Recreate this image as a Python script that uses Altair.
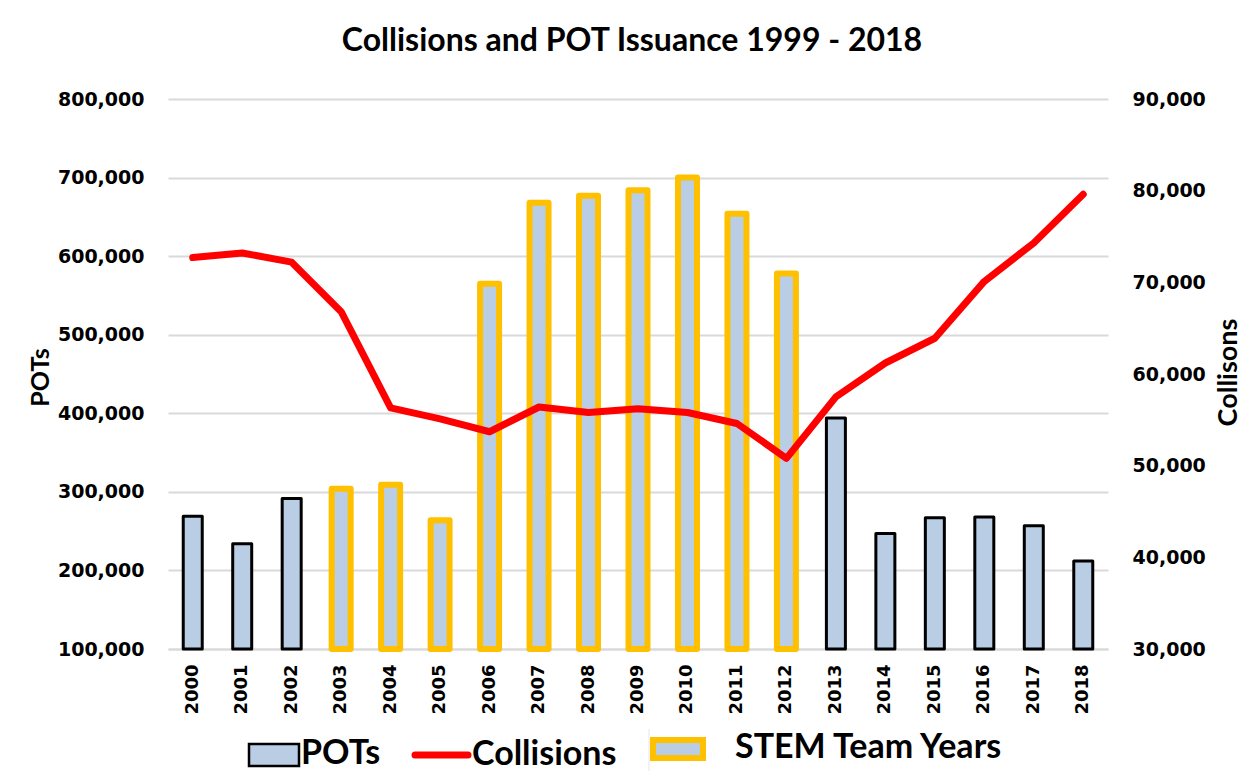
import altair as alt
import pandas as pd

years = [str(y) for y in range(2000, 2019)]
pots = [269000, 234000, 291500, 304000, 309000, 264000, 565000, 668000, 677000,
        684000, 700000, 654000, 578000, 394000, 247000, 267000, 268000, 257000, 212000]
collisions = [72700, 73200, 72200, 66800, 56300, 55100, 53700, 56400, 55800, 56200,
              55800, 54600, 50800, 57500, 61200, 63900, 70100, 74300, 79600]
stem_years = [str(y) for y in range(2003, 2013)]

df = pd.DataFrame({
    "Year": years,
    "POTs": pots,
    "Collisions": collisions,
    "Group": ["STEM" if y in stem_years else "POTs" for y in years],
})

W, H = 940, 550
BAR_FILL = "#b9cde5"
ORANGE = "#ffc000"
GRID = "#d9d9d9"
TXT = "#000000"

base = alt.Chart(df)

xenc = alt.X("Year:O", title=None,
             scale=alt.Scale(paddingInner=0.6, paddingOuter=0.3),
             axis=alt.Axis(labelAngle=-90, labelFont="DejaVu Sans", labelFontWeight="bold",
                           labelFontSize=18, labelColor=TXT, labelPadding=15,
                           ticks=False, domainColor=GRID, domainWidth=2,
                           labelBaseline="middle", labelAlign="right"))

bars = base.mark_bar(size=19, fill=BAR_FILL, strokeJoin="round").encode(
    x=xenc,
    y=alt.Y("POTs:Q", title="POTs",
            scale=alt.Scale(domain=[100000, 800000], nice=False, zero=False),
            axis=alt.Axis(values=list(range(100000, 800001, 100000)),
                          labelExpr="format(datum.value, ',.0f')",
                          labelFont="DejaVu Sans", labelFontWeight="bold", labelFontSize=19,
                          labelColor=TXT, labelPadding=24, ticks=False, domain=False,
                          grid=True, gridColor=GRID, gridWidth=2,
                          titleFont="Lato", titleFontWeight="bold", titleFontSize=25,
                          titleColor=TXT, titleX=-128, titleY=278, titleAngle=270,
                          titleAlign="center", titleBaseline="middle")),
    y2=alt.datum(100000),
    stroke=alt.Stroke("Group:N", scale=alt.Scale(domain=["POTs", "STEM"], range=["#000000", ORANGE]),
                      legend=None),
    strokeWidth=alt.StrokeWidth("Group:N", scale=alt.Scale(domain=["POTs", "STEM"], range=[3, 6]),
                                legend=None),
)

line = base.mark_line(color="#ff0000", strokeWidth=7, strokeCap="round", strokeJoin="round").encode(
    x=alt.X("Year:O"),
    y=alt.Y("Collisions:Q", title="Collisons",
            scale=alt.Scale(domain=[30000, 90000], nice=False, zero=False),
            axis=alt.Axis(orient="right", values=list(range(30000, 90001, 10000)),
                          labelExpr="format(datum.value, ',.0f')",
                          labelFont="DejaVu Sans", labelFontWeight="bold", labelFontSize=19,
                          labelColor=TXT, labelPadding=24, ticks=False, domain=False, grid=False,
                          titleFont="Lato", titleFontWeight="bold", titleFontSize=27,
                          titleColor=TXT, titleX=120, titleY=273, titleAngle=270,
                          titleAlign="center", titleBaseline="middle")),
)

one = pd.DataFrame({"k": [0]})
lg = alt.Chart(one)
LEG_FS = 34

leg_pots_box = lg.mark_rect(fill=BAR_FILL, stroke="#000000", strokeWidth=2.5).encode(
    x=alt.value(81), x2=alt.value(131), y=alt.value(645), y2=alt.value(667))
leg_pots_txt = lg.mark_text(align="left", baseline="middle", font="Lato", fontWeight="bold",
                            fontSize=LEG_FS, color=TXT).encode(
    x=alt.value(133), y=alt.value(655), text=alt.value("POTs"))
leg_line = lg.mark_rule(color="#ff0000", strokeWidth=7, strokeCap="round").encode(
    x=alt.value(247), x2=alt.value(300), y=alt.value(656))
leg_line_txt = lg.mark_text(align="left", baseline="middle", font="Lato", fontWeight="bold",
                            fontSize=LEG_FS, color=TXT).encode(
    x=alt.value(304), y=alt.value(656), text=alt.value("Collisions"))
leg_div = lg.mark_rule(color="#e6e6e6", strokeWidth=1).encode(
    x=alt.value(481), y=alt.value(630), y2=alt.value(680))
leg_stem_box = lg.mark_rect(fill=BAR_FILL, stroke=ORANGE, strokeWidth=6).encode(
    x=alt.value(485), x2=alt.value(535), y=alt.value(641), y2=alt.value(659))
leg_stem_txt = lg.mark_text(align="left", baseline="middle", font="Lato", fontWeight="bold",
                            fontSize=LEG_FS, color=TXT).encode(
    x=alt.value(567), y=alt.value(649), text=alt.value("STEM Team Years"))

main = alt.layer(bars, line).resolve_scale(y="independent", stroke="independent",
                                           strokeWidth="independent")

chart = alt.layer(
    main, leg_pots_box, leg_pots_txt, leg_line, leg_line_txt, leg_div, leg_stem_box, leg_stem_txt
).properties(
    width=W, height=H,
    background="white",
    title=alt.TitleParams("Collisions and POT Issuance 1999 - 2018", anchor="middle",
                          font="Lato", fontWeight="bold", fontSize=32, color=TXT,
                          offset=32, dx=-6),
    padding={"left": 160, "top": 91, "right": 134, "bottom": 122},
    autosize=alt.AutoSizeParams(type="none"),
).configure_view(strokeWidth=0, stroke=None)

chart.save("out.html", embed_options={"renderer": "svg", "actions": False})
